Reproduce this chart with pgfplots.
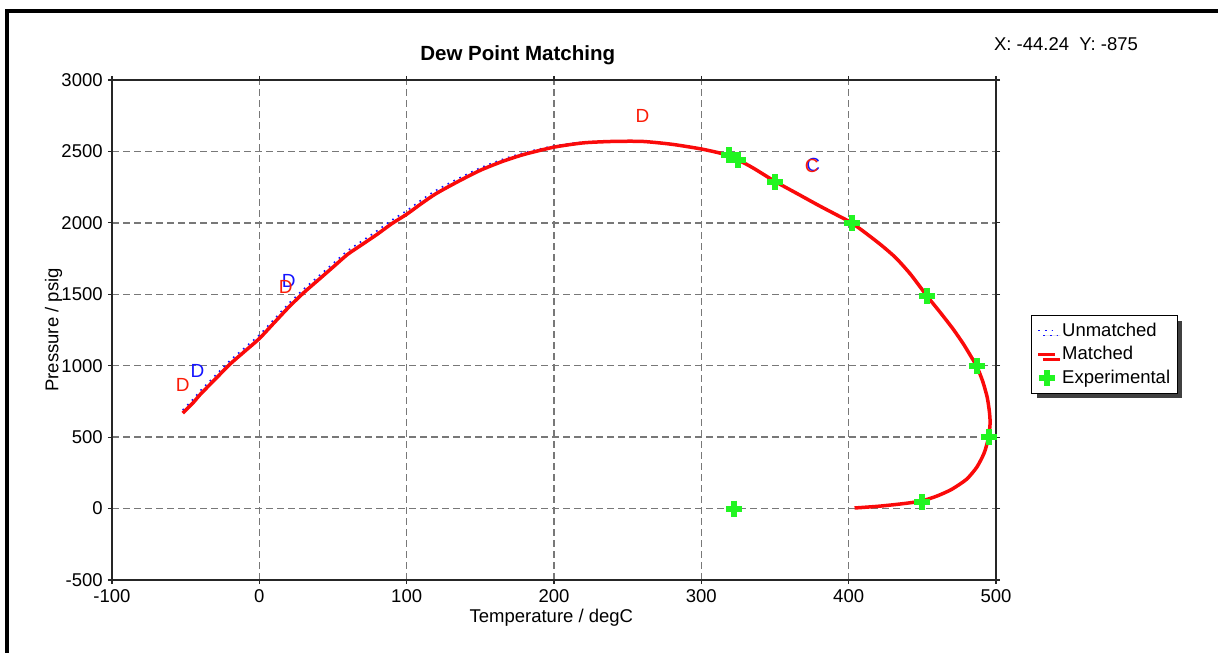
\documentclass[border=0pt]{standalone}
\usepackage{fontspec}
\setmainfont{Liberation Sans}
\usepackage{pgfplots}
\pgfplotsset{compat=1.18}
\usetikzlibrary{shadows}
\definecolor{expgreen}{RGB}{34,245,34}
\definecolor{mred}{RGB}{250,10,10}
\definecolor{ublue}{RGB}{20,20,255}
\definecolor{gridgray}{RGB}{120,120,120}
\pgfplotstableread{
x y
-52 668
-45 740
-40 800
-30 905
-20 1010
-10 1100
0 1190
10 1300
20 1410
30 1510
40 1600
50 1690
60 1780
70 1850
80 1920
90 1995
100 2060
110 2135
120 2205
135 2290
150 2368
165 2430
180 2480
200 2530
220 2560
240 2570
260 2570
280 2550
300 2517
315 2482
325 2440
335 2385
350 2290
365 2205
380 2120
392 2055
402 2000
412 1925
422 1845
432 1755
442 1640
453 1490
462 1375
471 1255
478 1150
483 1065
487 995
491 890
494 780
495.5 680
496 600
495 500
492 390
487 290
480 205
470 135
460 88
449 52
435 32
420 16
404 4
}\matched
\pgfplotstableread{
x y
-52 690
-45 765
-40 825
-30 930
-20 1035
-10 1125
0 1215
10 1325
20 1435
30 1535
40 1625
50 1715
60 1805
70 1875
80 1945
90 2020
100 2085
110 2160
120 2228
135 2310
150 2385
165 2444
180 2492
200 2538
220 2565
240 2573
260 2572
280 2551
300 2517
315 2482
325 2440
335 2385
350 2290
365 2205
380 2120
392 2055
402 2000
412 1925
422 1845
432 1755
442 1640
453 1490
462 1375
471 1255
478 1150
483 1065
487 995
491 890
494 780
495.5 680
496 600
495 500
492 390
487 290
480 205
470 135
460 88
449 52
435 32
420 16
404 4
}\unmatched
\begin{document}
\fontsize{18.5}{21}\selectfont
\begin{tikzpicture}
\path[use as bounding box] (0,0) rectangle (1218pt,653pt);
\draw[line width=4pt, black] (7pt,0pt) -- (7pt,641.5pt);
\draw[line width=4pt, black] (5pt,641.5pt) -- (1218pt,641.5pt);
\node[anchor=center] at (1066pt,609pt) {X: -44.24\ \ Y: -875};
\begin{axis}[
  at={(112pt,73pt)}, anchor=south west,
  scale only axis, width=884pt, height=500pt,
  xmin=-100, xmax=500, ymin=-500, ymax=3000,
  xtick={-100,0,...,500}, ytick={-500,0,...,3000},
  /pgf/number format/assume math mode=true,
  /pgf/number format/set thousands separator={},
  grid=major,
  major grid style={gridgray, line width=1.5pt, dash pattern=on 7pt off 4pt},
  axis line style={black!85, line width=1.8pt},
  tick style={black!85, line width=1.2pt},
  tick align=outside, major tick length=4pt,
  xticklabel style={yshift=1pt},
  yticklabel style={xshift=1pt},
  title={Dew Point Matching},
  title style={font=\fontsize{20.5}{24}\selectfont\bfseries, at={(axis description cs:0.459,1.038)}, anchor=center},
  xlabel={Temperature / degC},
  xlabel style={at={(axis description cs:0.497,-0.076)}, anchor=center},
  ylabel={Pressure / psig},
  ylabel style={at={(axis description cs:-0.066,0.5)}, anchor=center, rotate=0},
  legend style={at={(1.0396,0.53)}, anchor=north west, draw=black, line width=1.2pt,
    fill=white, inner xsep=5pt, inner ysep=5pt, row sep=3.5pt,
    drop shadow={shadow xshift=5pt, shadow yshift=-5pt, fill=black!75, opacity=1},
    font=\fontsize{18.5}{21}\selectfont, cells={anchor=west},
    /tikz/every odd column/.append style={column sep=3pt}},
  legend cell align=left,
  clip=false,
]
\addplot[ublue, line width=1.6pt, dash pattern=on 1.6pt off 5pt, smooth, tension=0.4] table {\unmatched};
\addlegendentry{Unmatched}
\addplot[mred, line width=3.5pt, line join=round, smooth, tension=0.4] table {\matched};
\addlegendentry{Matched}
\addplot[only marks, mark=+, mark size=8pt, expgreen, line width=6pt] table {
319 2475
325 2440
350 2287
402 2000
453 1488
487 998
495 500
450 46
322 0
};
\addlegendentry{Experimental}
\addplot[forget plot, draw=none, mark=none, nodes near coords, point meta=explicit symbolic,
  nodes near coords style={anchor=center, text=ublue, font=\fontsize{19}{21}\selectfont}]
  table[meta=l] {
x y l
-42 962 D
20 1590 D
376 2402 C
};
\addplot[forget plot, draw=none, mark=none, nodes near coords, point meta=explicit symbolic,
  nodes near coords style={anchor=center, text=mred!85!orange, font=\fontsize{19}{21}\selectfont}]
  table[meta=l] {
x y l
-52 865 D
18 1550 D
260 2748 D
375 2398 C
};
\end{axis}
\end{tikzpicture}
\end{document}
